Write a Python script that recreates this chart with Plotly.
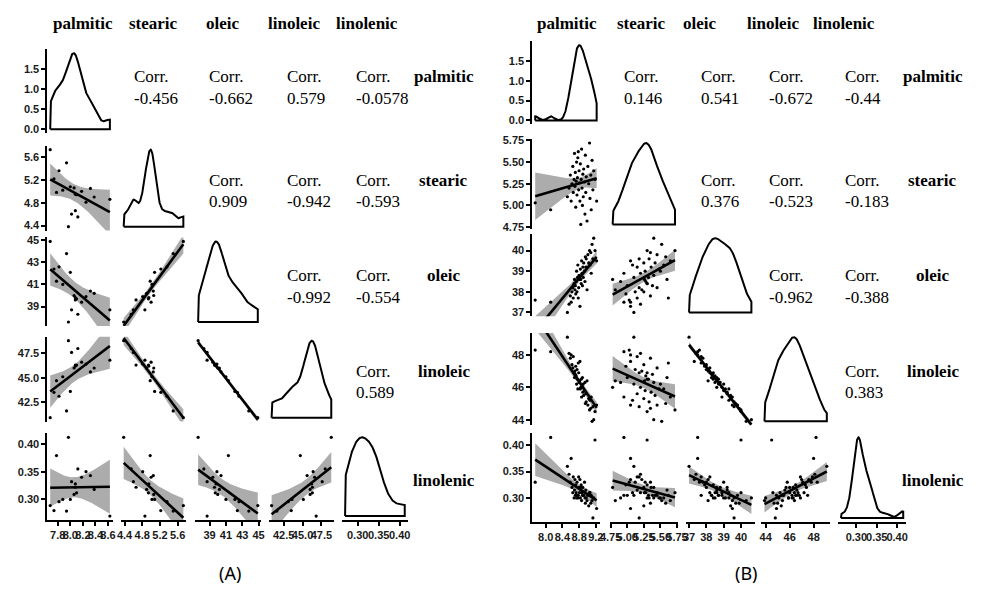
import numpy as np
import plotly.graph_objects as go

W, H = 981, 590
VARS = ["palmitic", "stearic", "oleic", "linoleic", "linolenic"]

# ---------------- Panel (A) samples ----------------
a_palmitic = [7.68, 7.94, 7.82, 8.00, 7.78, 8.06, 8.32, 8.10, 8.25, 8.63, 8.02, 8.08, 7.97, 8.08, 7.88, 8.38, 8.18, 8.12, 7.74]
a_stearic = [5.73, 5.50, 5.36, 5.08, 4.98, 5.06, 5.05, 4.94, 4.81, 4.86, 4.60, 4.66, 4.38, 4.95, 5.02, 4.90, 5.00, 4.55, 5.22]
a_oleic = [44.9, 43.8, 42.6, 42.1, 41.3, 40.0, 40.4, 39.7, 39.9, 38.7, 38.7, 39.6, 37.6, 39.8, 41.0, 40.2, 39.4, 38.3, 42.4]
a_linoleic = [40.9, 41.6, 43.1, 43.6, 44.7, 46.0, 45.6, 46.3, 46.4, 46.8, 47.6, 46.3, 48.8, 46.2, 45.1, 46.0, 46.6, 48.0, 43.5]
a_linolenic = [0.289, 0.279, 0.296, 0.300, 0.379, 0.309, 0.343, 0.312, 0.350, 0.270, 0.332, 0.322, 0.412, 0.328, 0.300, 0.318, 0.340, 0.355, 0.280]
a_corr = ["-0.456", "-0.662", "0.579", "-0.0578", "0.909", "-0.942", "-0.593", "-0.992", "-0.554", "0.589"]
a_ticks = [[7.8, 8.0, 8.2, 8.4, 8.6], [4.4, 4.8, 5.2, 5.6], [39, 41, 43, 45], [42.5, 45.0, 47.5], [0.30, 0.35, 0.40]]
a_ticktext = [["7.8", "8.0", "8.2", "8.4", "8.6"], ["4.4", "4.8", "5.2", "5.6"], ["39", "41", "43", "45"],
              ["42.5", "45.0", "47.5"], ["0.30", "0.35", "0.40"]]
a_dens_ticks = [0.0, 0.5, 1.0, 1.5, 2.0]
a_dens_text = ["0.0", "0.5", "1.0", "1.5", "2.0"]

# ---------------- Panel (B) samples ----------------
b_palmitic = [7.75, 8.12, 8.52, 8.56, 8.59, 8.61, 8.63, 8.65, 8.66, 8.68,
              8.69, 8.70, 8.71, 8.72, 8.73, 8.74, 8.75, 8.76, 8.77, 8.79,
              8.80, 8.81, 8.82, 8.83, 8.85, 8.86, 8.87, 8.88, 8.89, 8.90,
              8.91, 8.93, 8.94, 8.95, 8.96, 8.97, 8.99, 9.01, 9.03, 9.05,
              9.06, 9.08, 9.09, 9.11, 9.13, 9.15, 9.18, 9.22, 8.84, 8.78]
b_stearic = [5.03, 4.95, 5.10, 5.20, 5.35, 5.05, 5.25, 5.45, 5.15, 5.30,
             5.60, 5.22, 5.38, 4.98, 5.28, 5.50, 5.12, 5.32, 5.55, 5.18,
             5.40, 5.26, 5.05, 5.48, 5.30, 5.65, 5.20, 5.00, 5.36, 5.10,
             5.42, 5.27, 4.90, 5.58, 5.15, 5.33, 4.82, 5.45, 5.25, 5.72,
             5.08, 5.35, 4.95, 5.52, 5.18, 5.40, 5.30, 5.05, 4.78, 5.62]
b_oleic = [37.6, 37.5, 37.0, 37.4, 37.8, 37.5, 38.0, 38.2, 37.7, 38.4,
           38.6, 38.1, 38.3, 37.9, 38.5, 39.0, 38.0, 38.7, 39.3, 38.2,
           38.8, 38.6, 37.3, 39.1, 38.4, 39.5, 38.9, 38.3, 39.2, 38.7,
           39.4, 39.0, 38.5, 39.7, 39.2, 39.6, 38.1, 39.8, 39.4, 40.0,
           39.3, 39.9, 38.9, 40.3, 39.6, 40.6, 40.0, 39.5, 38.6, 37.7]
b_linoleic = [48.3, 48.2, 49.1, 48.1, 47.8, 48.0, 47.4, 47.2, 47.9, 46.9,
              46.6, 47.0, 46.8, 47.3, 46.7, 46.2, 47.1, 46.5, 45.9, 46.9,
              46.3, 46.4, 47.6, 45.9, 46.5, 45.4, 46.0, 46.6, 45.7, 46.2,
              45.5, 45.8, 46.3, 45.0, 45.6, 45.1, 46.4, 44.9, 45.3, 44.6,
              45.2, 44.7, 45.4, 43.9, 44.8, 44.0, 44.5, 44.9, 46.0, 47.5]
b_linolenic = [0.330, 0.415, 0.360, 0.345, 0.330, 0.375, 0.320, 0.310, 0.340, 0.300,
               0.315, 0.335, 0.305, 0.325, 0.310, 0.300, 0.330, 0.305, 0.300, 0.340,
               0.320, 0.310, 0.335, 0.300, 0.325, 0.295, 0.310, 0.305, 0.320, 0.305,
               0.305, 0.330, 0.300, 0.290, 0.315, 0.300, 0.295, 0.305, 0.285, 0.310,
               0.310, 0.290, 0.305, 0.295, 0.262, 0.300, 0.410, 0.280, 0.320, 0.305]
b_corr = ["0.146", "0.541", "-0.672", "-0.44", "0.376", "-0.523", "-0.183", "-0.962", "-0.388", "0.383"]
b_ticks = [[8.0, 8.4, 8.8, 9.2], [4.75, 5.00, 5.25, 5.50, 5.75], [37, 38, 39, 40], [44, 46, 48], [0.30, 0.35, 0.40]]
b_ticktext = [["8.0", "8.4", "8.8", "9.2"], ["4.75", "5.00", "5.25", "5.50", "5.75"], ["37", "38", "39", "40"],
              ["44", "46", "48"], ["0.30", "0.35", "0.40"]]
b_dens_ticks = [0.0, 0.5, 1.0, 1.5, 2.0]
b_dens_text = ["0.0", "0.5", "1.0", "1.5", "2.0"]

# ---------------- layout geometry (pixels) ----------------
panels = [
    dict(data=[a_palmitic, a_stearic, a_oleic, a_linoleic, a_linolenic], corr=a_corr,
         ticks=a_ticks, ticktext=a_ticktext, dticks=a_dens_ticks, dtext=a_dens_text,
         cols=[(38, 105), (113, 180), (189, 256), (264, 331), (339, 406)],
         rows=[(45, 130), (143, 229), (236, 326), (337, 423), (435, 523)],
         head_x=[75, 146, 217, 290, 364], head_y=19,
         corr_x=[None, 125, 201, 281, 351], corr_y=[73, 178, 275, 372],
         lab_x=443, lab_y=[73, 178, 275, 372, 483], tag="(A)", tag_x=225),
    dict(data=[b_palmitic, b_stearic, b_oleic, b_linoleic, b_linolenic], corr=b_corr,
         ticks=b_ticks, ticktext=b_ticktext, dticks=b_dens_ticks, dtext=b_dens_text,
         cols=[(533, 602), (612, 682), (690, 760), (767, 837), (845, 915)],
         rows=[(37, 121), (136, 227), (233, 316), (333, 427), (435, 525)],
         head_x=[569, 645, 704, 779, 851], head_y=19,
         corr_x=[None, 625, 703, 773, 850], corr_y=[73, 178, 275, 372],
         lab_x=942, lab_y=[73, 178, 275, 372, 483], tag="(B)", tag_x=752),
]

SERIF = "Liberation Serif, 'Times New Roman', Tinos, 'DejaVu Serif', serif"


def bw_nrd0(x):
    x = np.asarray(x, float)
    sd = x.std(ddof=1)
    q75, q25 = np.percentile(x, [75, 25])
    lo = min(sd, (q75 - q25) / 1.34)
    if lo <= 0:
        lo = sd
    return 0.9 * lo * len(x) ** -0.2


def kde(x):
    x = np.asarray(x, float)
    bw = bw_nrd0(x)
    g = np.linspace(x.min(), x.max(), 256)
    d = np.exp(-0.5 * ((g[:, None] - x[None, :]) / bw) ** 2).sum(1) / (len(x) * bw * np.sqrt(2 * np.pi))
    return g, d


def tq(df):
    z = 1.959963985
    return (z + (z ** 3 + z) / (4 * df) + (5 * z ** 5 + 16 * z ** 3 + 3 * z) / (96 * df ** 2)
            + (3 * z ** 7 + 19 * z ** 5 + 17 * z ** 3 - 15 * z) / (384 * df ** 3))


def lm_band(x, y):
    x = np.asarray(x, float)
    y = np.asarray(y, float)
    n = len(x)
    xb = x.mean()
    sxx = ((x - xb) ** 2).sum()
    b = ((x - xb) * (y - y.mean())).sum() / sxx
    a = y.mean() - b * xb
    s = np.sqrt(((y - a - b * x) ** 2).sum() / (n - 2))
    g = np.linspace(x.min(), x.max(), 80)
    fit = a + b * g
    se = s * np.sqrt(1 / n + (g - xb) ** 2 / sxx)
    t = tq(n - 2)
    return g, fit, fit - t * se, fit + t * se


def expand(v):
    lo, hi = min(v), max(v)
    e = 0.05 * (hi - lo)
    return [lo - e, hi + e]


TICKFONT = dict(family="'Liberation Sans Narrow', 'Liberation Sans', Arial", size=11, color="#1a1a1a", weight=700)


def make_axis(dom, rng, show, tv, tt, anchor):
    d = dict(domain=dom, range=rng, anchor=anchor, showgrid=False, zeroline=False, fixedrange=True)
    if show:
        d.update(showline=True, linecolor="black", linewidth=1.6, ticks="outside", ticklen=4,
                 tickwidth=1.6, tickcolor="black", tickvals=tv, ticktext=tt, tickfont=TICKFONT,
                 tickangle=0, showticklabels=True)
    else:
        d.update(showline=False, ticks="", showticklabels=False)
    return d


fig = go.Figure()
axes = {}
annotations = []
k = 0
for P in panels:
    data = P["data"]
    rngs = [expand(d) for d in data]
    for i in range(5):
        for j in range(i + 1):
            k += 1
            xa = "x" if k == 1 else f"x{k}"
            ya = "y" if k == 1 else f"y{k}"
            xdom = [P["cols"][j][0] / W, P["cols"][j][1] / W]
            ydom = [1 - P["rows"][i][1] / H, 1 - P["rows"][i][0] / H]
            if i == j:
                g, d = kde(data[j])
                xs = [g[0]] + list(g) + [g[-1], g[0]]
                ys = [0.0] + list(d) + [0.0, 0.0]
                fig.add_trace(go.Scatter(x=xs, y=ys, mode="lines", line=dict(color="black", width=2),
                                         xaxis=xa, yaxis=ya, hoverinfo="skip"))
                yr = [-0.05 * d.max(), 1.05 * d.max()]
                ytv, ytt = P["dticks"], P["dtext"]
            else:
                g, fit, lo, hi = lm_band(data[j], data[i])
                fig.add_trace(go.Scatter(x=list(g) + list(g[::-1]), y=list(hi) + list(lo[::-1]),
                                         fill="toself", fillcolor="rgb(172,172,172)", mode="lines",
                                         line=dict(width=0, color="rgba(0,0,0,0)"),
                                         xaxis=xa, yaxis=ya, hoverinfo="skip"))
                fig.add_trace(go.Scatter(x=data[j], y=data[i], mode="markers",
                                         marker=dict(color="black", size=3.2),
                                         xaxis=xa, yaxis=ya, hoverinfo="skip"))
                fig.add_trace(go.Scatter(x=g, y=fit, mode="lines", line=dict(color="black", width=2.6),
                                         xaxis=xa, yaxis=ya, hoverinfo="skip"))
                yr = rngs[i]
                ytv, ytt = P["ticks"][i], P["ticktext"][i]
            xname = "xaxis" if k == 1 else f"xaxis{k}"
            yname = "yaxis" if k == 1 else f"yaxis{k}"
            axes[xname] = make_axis(xdom, rngs[j], i == 4, P["ticks"][j], P["ticktext"][j], ya)
            axes[yname] = make_axis(ydom, yr, j == 0, ytv, ytt, xa)

    # headers and row labels
    for j, name in enumerate(VARS):
        annotations.append(dict(x=P["head_x"][j] / W, y=1 - P["head_y"] / H, text=name, showarrow=False,
                                xref="paper", yref="paper", xanchor="center", yanchor="middle",
                                font=dict(family=SERIF, size=17, color="black", weight=700)))
        annotations.append(dict(x=P["lab_x"] / W, y=1 - P["lab_y"][j] / H, text=name, showarrow=False,
                                xref="paper", yref="paper", xanchor="center", yanchor="middle",
                                font=dict(family=SERIF, size=17, color="black", weight=700)))
    # correlations
    c = 0
    for i in range(5):
        for j in range(i + 1, 5):
            for txt, dy in (("Corr.", 0), (P["corr"][c], 22)):
                annotations.append(dict(x=P["corr_x"][j] / W, y=1 - (P["corr_y"][i] + dy) / H, text=txt,
                                        showarrow=False, xref="paper", yref="paper", xanchor="left",
                                        yanchor="middle",
                                        font=dict(family=SERIF, size=17, color="black")))
            c += 1
    annotations.append(dict(x=P["tag_x"] / W, y=1 - 577 / H, text=P["tag"], showarrow=False,
                            xref="paper", yref="paper", xanchor="center", yanchor="middle",
                            font=dict(family="Noto Sans", size=18, color="black")))

fig.update_layout(width=W, height=H, margin=dict(l=0, r=0, t=0, b=0), paper_bgcolor="white",
                  plot_bgcolor="white", showlegend=False, annotations=annotations, **axes)
fig.write_html("out.html")
